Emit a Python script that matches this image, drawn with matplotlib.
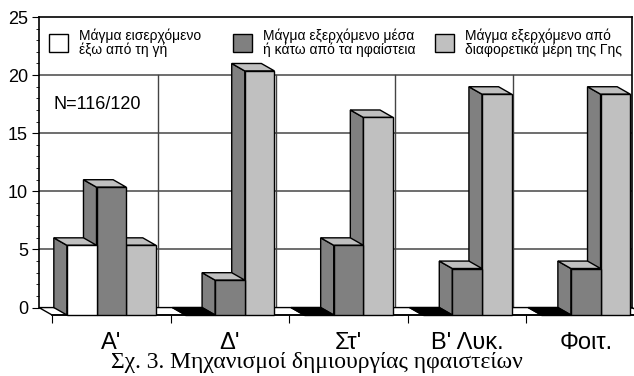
import matplotlib.pyplot as plt
from matplotlib.patches import Polygon, Rectangle

plt.rcParams['font.family'] = ['Liberation Sans', 'DejaVu Sans']

categories = ["Α'", "Δ'", "Στ'", "Β' Λυκ.", "Φοιτ."]
magma_in = [6, 0, 0, 0, 0]
magma_volcano = [11, 3, 6, 4, 4]
magma_elsewhere = [6, 21, 17, 19, 19]
series_labels = ["Μάγμα εισερχόμενο\nέξω από τη γή",
                 "Μάγμα εξερχόμενο μέσα\nή κάτω από τα ηφαίστεια",
                 "Μάγμα εξερχόμενο από\nδιαφορετικά μέρη της Γης"]
front_colors = ['white', '#808080', '#c0c0c0']

# fake 3d depth, in data units
DX = 0.11
DY = 0.64
W = 0.25

fig = plt.figure(figsize=(6.34, 3.76), dpi=100)
ax = fig.add_axes([39 / 634, 61 / 376, 593 / 634, 298 / 376])
ax.set_xlim(-0.5, 4.5)
ax.set_ylim(-DY, 25)


def bar3d(x0, v, front, z):
    x1 = x0 + W
    side = [(x0, 0), (x0, v), (x0 + DX, v - DY), (x0 + DX, -DY)]
    top = [(x0, v), (x1, v), (x1 + DX, v - DY), (x0 + DX, v - DY)]
    face = [(x0 + DX, -DY), (x0 + DX, v - DY), (x1 + DX, v - DY), (x1 + DX, -DY)]
    top_color = 'black' if v == 0 else '#c0c0c0'
    for pts, c in [(side, '#808080'), (top, top_color), (face, front)]:
        ax.add_patch(Polygon(pts, closed=True, facecolor=c, edgecolor='black',
                             linewidth=1, zorder=z, clip_on=False))


# back wall grid
for y in [5, 10, 15, 20]:
    ax.plot([-0.5, 4.5], [y, y], color='#555555', lw=1.2, zorder=1)
for x in [0.5, 1.5, 2.5, 3.5]:
    ax.plot([x, x], [0, 20], color='#444444', lw=1, zorder=1)

# floor
ax.add_patch(Polygon([(-0.5, 0), (4.5, 0), (4.5 + DX, -DY), (-0.5 + DX, -DY)],
                     closed=True, facecolor='white', edgecolor='black',
                     lw=1, zorder=2, clip_on=False))

series = [magma_in, magma_volcano, magma_elsewhere]
z = 3
for i in reversed(range(len(categories))):
    for s in reversed(range(3)):
        x0 = i - 1.5 * W + s * W
        bar3d(x0, series[s][i], front_colors[s], z)
        z += 1

# axes frame
for side in ['left', 'right']:
    ax.spines[side].set_bounds(0, 25)
ax.spines['top'].set_bounds(-0.5, 4.5)
ax.spines['bottom'].set_bounds(-0.5 + DX, 4.5 + DX)
for sp in ax.spines.values():
    sp.set_linewidth(1.2)

ax.set_yticks(range(0, 26, 5))
ax.set_yticks(range(0, 26), minor=True)
ax.tick_params(axis='y', which='major', direction='out', length=5,
               labelsize=13, pad=3)
ax.tick_params(axis='y', which='minor', direction='out', length=2.5)

ax.set_xticks([k - 0.5 + DX for k in range(5)])
ax.set_xticklabels([])
ax.set_xticks([k + DX for k in range(5)], minor=True)
ax.set_xticklabels(categories, minor=True, fontsize=17)
ax.tick_params(axis='x', which='major', direction='out', length=6)
ax.tick_params(axis='x', which='minor', length=0, pad=12)

ax.text(0.025, 0.707, "N=116/120", transform=ax.transAxes, fontsize=13,
        va='center', ha='left')

# legend strip across the top of the plot
patch_x = [0.0169, 0.327, 0.668]
text_x = [0.0675, 0.378, 0.718]
for c, px, tx, lab in zip(front_colors, patch_x, text_x, series_labels):
    ax.add_patch(Rectangle((px, 0.883), 0.032, 0.060, transform=ax.transAxes,
                           facecolor=c, edgecolor='black', lw=1, zorder=50))
    ax.text(tx, 0.913, lab, transform=ax.transAxes, fontsize=10,
            va='center', ha='left', linespacing=1.0, zorder=50)

fig.text(0.5, 0.02, "Σχ. 3. Μηχανισμοί δημιουργίας ηφαιστείων",
         family='Liberation Serif', fontsize=17, ha='center', va='baseline')

fig.savefig('out.png', dpi=100)
